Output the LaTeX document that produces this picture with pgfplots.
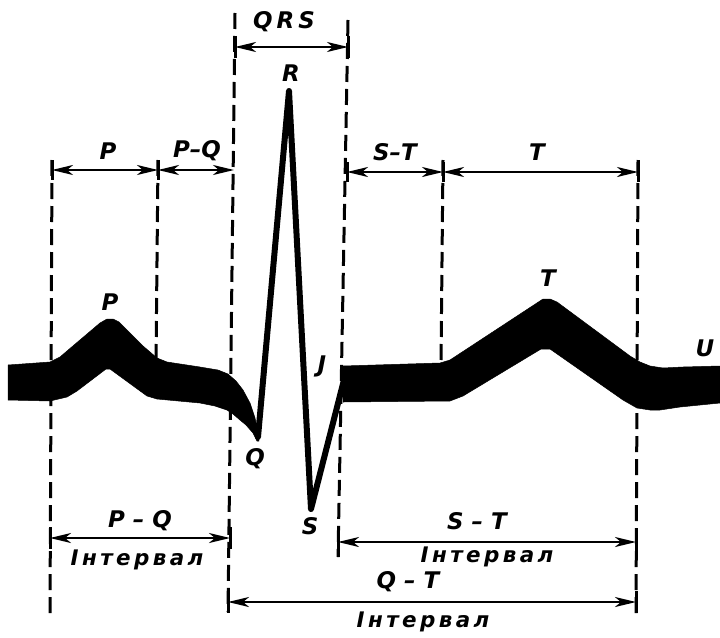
\documentclass[border=0pt]{standalone}
\usepackage{fontspec}
\setsansfont{DejaVu Sans}
\usepackage{pgfplots}
\pgfplotsset{compat=1.18}
\usetikzlibrary{arrows.meta}

\newcommand\lab{\sffamily\bfseries\itshape\fontsize{23}{23}\selectfont}
\newcommand\intv{\sffamily\bfseries\itshape\fontsize{21.5}{21}\selectfont\addfontfeatures{LetterSpace=16}}

\tikzset{
  dim/.style={line width=2.4bp, {Stealth[length=21bp,width=10bp,inset=6bp]}-{Stealth[length=21bp,width=10bp,inset=6bp]}},
  guide/.style={line width=3bp, dash pattern=on 16bp off 7bp},
  endtick/.style={line width=3bp},
}

\begin{document}
\begin{tikzpicture}
\begin{axis}[
  hide axis, scale only axis,
  width=720bp, height=637bp,
  xmin=0, xmax=720, ymin=0, ymax=637,
  y dir=reverse, clip=false,
  every axis plot/.append style={mark=none},
]
% band before QRS
\addplot [fill=black, draw=black, line width=0.5bp, line join=round] coordinates {
  (8,365) (50,362) (60,357) (67,351) (100,323) (107,319) (113,319) (119,322)
  (143,346) (157,358) (167,362) (200,367) (218,370) (228,374) (236,381)
  (243,390) (250,403) (255,418) (258,432) (259,441)
  (257,441) (253,433) (246,425) (240,420) (233,414) (227,410) (215,406)
  (200,403) (157,399) (147,396) (110,369) (106,369) (77,391) (67,397)
  (50,401) (8,400) (8,365)
};
% band after QRS
\addplot [fill=black, draw=black, line width=0.5bp, line join=round] coordinates {
  (343,366) (440,363) (450,360) (543,299) (550,299) (557,302) (630,356)
  (640,362) (650,366) (663,368) (683,367) (720,366)
  (720,403) (680,407) (660,410) (650,410) (637,408) (623,400) (550,349)
  (541,349) (463,396) (450,401) (343,402) (343,366)
};
% QRS complex
\addplot [line width=6bp, line join=round, line cap=round] coordinates {
  (258,437) (289,91) (311,509) (346,372)
};

% dashed guide lines
\addplot [guide] coordinates {(52,160) (50,615)};
\addplot [guide] coordinates {(158,160) (156,362)};
\addplot [guide] coordinates {(235,13) (228,612)};
\addplot [guide] coordinates {(348,20) (338,557)};
\addplot [guide] coordinates {(443,160) (441,362)};
\addplot [guide] coordinates {(638,160) (636,615)};

% solid ticks at arrow ends
\addplot [endtick] coordinates {(52,160) (52,180)};
\addplot [endtick] coordinates {(158,160) (158,180)};
\addplot [endtick] coordinates {(235,36) (235,58)};
\addplot [endtick] coordinates {(348,36) (348,58)};
\addplot [endtick] coordinates {(347,162) (347,182)};
\addplot [endtick] coordinates {(443,162) (443,182)};
\addplot [endtick] coordinates {(638,160) (638,182)};
\addplot [endtick] coordinates {(50,527) (50,549)};
\addplot [endtick] coordinates {(230,527) (230,549)};
\addplot [endtick] coordinates {(338,530) (338,557)};
\addplot [endtick] coordinates {(636,531) (636,553)};
\addplot [endtick] coordinates {(228,591) (228,613)};
\addplot [endtick] coordinates {(636,591) (636,613)};

% dimension arrows
\addplot [dim] coordinates {(235,47) (348,47)};
\addplot [dim] coordinates {(52,170) (158,170)};
\addplot [dim] coordinates {(158,170) (234,170)};
\addplot [dim] coordinates {(347,172) (443,172)};
\addplot [dim] coordinates {(443,172) (638,172)};
\addplot [dim] coordinates {(50,538) (230,538)};
\addplot [dim] coordinates {(338,542) (636,542)};
\addplot [dim] coordinates {(228,602) (636,602)};

% labels
\node at (axis cs:284,22) {\lab Q\kern4pt R\kern4pt S};
\node at (axis cs:291,73) {\lab R};
\node at (axis cs:108,151) {\lab P};
\node at (axis cs:197,151) {\lab P–Q};
\node at (axis cs:395,152) {\lab S–T};
\node at (axis cs:537,152) {\lab T};
\node at (axis cs:110,302) {\lab P};
\node at (axis cs:548,278) {\lab T};
\node at (axis cs:705,348) {\lab U};
\node at (axis cs:322,366) {\lab J};
\node at (axis cs:255,459) {\lab Q};
\node at (axis cs:310,526) {\lab S};
\node at (axis cs:140,521) {\lab P – Q};
\node at (axis cs:137,560) {\intv Інтервал};
\node at (axis cs:477,521) {\lab S – T};
\node at (axis cs:487,557) {\intv Інтервал};
\node at (axis cs:408,582) {\lab Q – T};
\node at (axis cs:423,622) {\intv Інтервал};
\end{axis}
\pgfresetboundingbox
\useasboundingbox (current axis.south west) rectangle (current axis.north east);
\end{tikzpicture}
\end{document}
